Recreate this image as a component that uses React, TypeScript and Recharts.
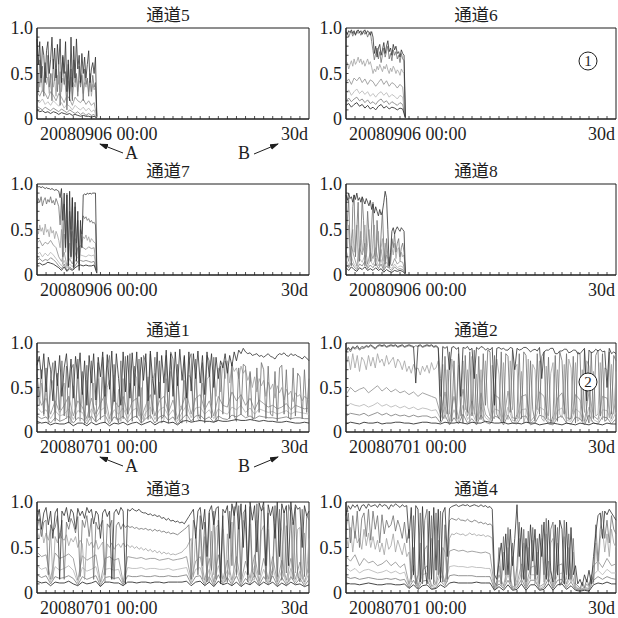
import { LineChart, Line, XAxis, YAxis, ReferenceArea } from 'recharts'

// time axis: days, values: percent of full scale (axis shows 0..1.0)
const FULL_DAYS = 30
const TOP_SPAN = 6.6
const DAY_TICKS = Array.from({ length: FULL_DAYS + 1 }, (_, i) => i)
const LEVEL_TICKS = [0, 10, 20, 30, 40, 50, 60, 70, 80, 90, 100]
const LEVEL_LABELS: Record<number, string> = { 0: '0', 50: '0.5', 100: '1.0' }

// ---- 通道5 (20080906) ----
const ch5Hi = [88, 60, 85, 45, 80, 70, 40, 75, 85, 50, 65, 90, 55, 78, 45, 82, 60, 88, 40, 70, 50, 85, 30, 65, 20, 90, 35, 80, 45, 88, 55, 70, 40, 72, 50, 68, 45, 60, 75, 40, 55, 62, 50, 68, 3]
const ch5Mid = [55, 30, 65, 40, 58, 25, 62, 45, 70, 35, 50, 20, 66, 42, 55, 30, 60, 15, 48, 68, 38, 52, 10, 60, 30, 55, 20, 65, 40, 50, 25, 58, 35, 48, 20, 55, 38, 45, 25, 50, 30, 48, 35, 40, 2]
const ch5Lt = [40, 50, 35, 48, 30, 45, 52, 38, 46, 28, 42, 50, 35, 44, 25, 48, 38, 52, 30, 45, 40, 35, 15, 42, 28, 46, 22, 40, 35, 48, 30, 42, 38, 50, 28, 40, 35, 45, 30, 42, 25, 38, 32, 36, 2]
const ch5L1 = [30, 25, 32, 28, 22, 30, 26, 20, 28, 24, 18, 26, 22, 15, 24, 20, 18, 22, 16, 20, 15, 18, 2]
const ch5L2 = [20, 18, 22, 16, 19, 15, 20, 17, 14, 18, 12, 16, 14, 10, 15, 12, 10, 13, 9, 12, 8, 10, 1]
const ch5L3 = [14, 12, 10, 13, 11, 9, 12, 10, 8, 11, 9, 7, 10, 8, 6, 8, 5, 7, 4, 6, 4, 5, 1]
const ch5Base = [10, 8, 9, 7, 8, 6, 8, 7, 5, 7, 6, 5, 6, 4, 5, 4, 3, 4, 3, 3, 2, 3, 1]

// ---- 通道6 ----
const ch6Hi = [96, 93, 97, 95, 98, 94, 97, 92, 96, 98, 95, 97, 93, 96, 98, 94, 97, 95, 92, 96, 90, 72, 80, 68, 78, 82, 70, 76, 84, 72, 80, 86, 74, 78, 70, 82, 76, 80, 72, 74, 68, 76, 72, 70, 2]
const ch6Mid = [92, 95, 90, 94, 96, 91, 95, 93, 97, 94, 96, 92, 95, 97, 93, 95, 90, 94, 96, 85, 75, 65, 72, 78, 66, 74, 62, 70, 78, 68, 74, 80, 66, 72, 64, 76, 70, 74, 66, 70, 62, 72, 66, 64, 2]
const ch6Lt = [58, 62, 55, 60, 64, 58, 66, 60, 63, 68, 62, 66, 60, 64, 58, 62, 66, 60, 63, 57, 50, 55, 52, 58, 54, 60, 56, 52, 58, 55, 60, 54, 50, 56, 52, 58, 55, 50, 54, 52, 48, 55, 52, 50, 2]
const ch6L1 = [40, 44, 38, 45, 42, 46, 40, 44, 38, 43, 41, 36, 40, 44, 38, 42, 36, 40, 38, 34, 38, 35, 2]
const ch6L2 = [28, 32, 26, 30, 33, 28, 31, 27, 30, 25, 28, 24, 28, 30, 26, 29, 24, 27, 25, 22, 26, 24, 2]
const ch6L3 = [20, 23, 19, 22, 24, 20, 22, 18, 21, 17, 19, 16, 20, 22, 18, 20, 16, 19, 17, 15, 18, 16, 1]
const ch6Base = [15, 17, 13, 16, 18, 14, 16, 12, 15, 11, 13, 10, 14, 16, 12, 14, 11, 13, 12, 10, 12, 11, 1]

// ---- 通道7 ----
const ch7Hi = [98, 97, 97, 96, 97, 96, 95, 96, 95, 95, 94, 95, 94, 93, 94, 93, 92, 85, 95, 60, 90, 30, 88, 10, 92, 20, 85, 8, 80, 15, 70, 5, 60, 30, 88, 89, 88, 90, 89, 90, 89, 90, 90, 90, 5]
const ch7Mid = [78, 84, 80, 86, 76, 82, 85, 78, 83, 80, 86, 79, 82, 77, 84, 80, 75, 55, 85, 20, 78, 40, 90, 15, 70, 50, 85, 10, 75, 35, 60, 12, 50, 45, 65, 62, 64, 60, 62, 58, 60, 57, 58, 55, 3]
const ch7Lt = [50, 45, 55, 48, 52, 44, 56, 47, 50, 42, 53, 46, 49, 40, 48, 44, 38, 30, 50, 12, 45, 25, 60, 8, 35, 18, 48, 6, 40, 20, 30, 10, 28, 35, 42, 40, 44, 38, 42, 36, 40, 38, 36, 35, 3]
const ch7L1 = [35, 38, 32, 36, 34, 38, 33, 30, 20, 15, 25, 10, 18, 12, 22, 30, 32, 30, 28, 31, 29, 30, 3]
const ch7L2 = [22, 25, 20, 24, 21, 25, 22, 18, 14, 10, 16, 8, 12, 9, 15, 20, 22, 21, 20, 22, 21, 22, 2]
const ch7L3 = [16, 18, 15, 17, 16, 19, 17, 14, 10, 7, 12, 5, 9, 6, 10, 15, 16, 15, 16, 15, 14, 15, 2]
const ch7Base = [12, 13, 11, 12, 14, 13, 12, 10, 8, 5, 9, 4, 7, 5, 8, 10, 11, 10, 11, 10, 10, 11, 2]

// ---- 通道8 ----
const ch8Hi = [88, 82, 90, 84, 86, 80, 88, 83, 90, 82, 85, 80, 86, 82, 78, 84, 80, 76, 82, 72, 78, 68, 75, 70, 65, 72, 66, 70, 80, 92, 85, 50, 10, 25, 48, 52, 45, 50, 53, 50, 48, 52, 50, 48, 2]
const ch8Mid = [20, 60, 85, 30, 10, 75, 88, 20, 50, 80, 15, 40, 85, 60, 10, 30, 70, 45, 15, 55, 80, 25, 10, 60, 35, 15, 45, 70, 30, 12, 40, 20, 8, 15, 40, 30, 45, 25, 35, 40, 20, 30, 35, 25, 2]
const ch8Lt = [45, 30, 55, 20, 40, 50, 25, 35, 55, 15, 30, 48, 25, 40, 55, 20, 35, 50, 30, 15, 40, 55, 20, 35, 48, 10, 30, 40, 15, 35, 25, 8, 20, 12, 30, 22, 35, 18, 28, 30, 15, 25, 20, 22, 2]
const ch8L1 = [28, 15, 32, 20, 10, 30, 22, 35, 12, 25, 18, 30, 15, 28, 8, 22, 15, 10, 18, 12, 15, 14, 2]
const ch8L2 = [18, 10, 20, 12, 8, 18, 14, 22, 9, 16, 11, 19, 10, 17, 6, 14, 10, 7, 12, 8, 10, 9, 1]
const ch8L3 = [12, 8, 14, 9, 6, 12, 10, 15, 7, 11, 8, 13, 7, 12, 5, 10, 7, 5, 9, 6, 7, 6, 1]
const ch8Base = [8, 5, 9, 6, 4, 8, 6, 9, 5, 7, 5, 8, 5, 7, 3, 6, 4, 3, 5, 4, 5, 4, 1]

// ---- 通道1 (20080701, 30 days) ----
const ch1Hi = [
  75, 85, 60, 88, 45, 84, 70, 35, 80, 52, 86, 40, 72, 88, 50, 82, 38, 85, 60, 89,
  42, 80, 30, 86, 55, 88, 36, 84, 62, 90, 40, 87, 48, 91, 34, 88, 60, 30, 90, 45,
  86, 38, 89, 52, 90, 40, 84, 58, 88, 35, 91, 60, 42, 90, 38, 86, 55, 92, 45, 88,
  40, 90, 52, 93, 58, 86, 38, 90, 46, 88, 60, 91, 55, 86, 42, 90, 62, 88, 50, 84,
  60, 80, 72, 88, 66, 86, 74, 90, 80, 92, 88, 94, 90, 88, 89, 86, 87, 88, 85, 86,
  84, 86, 88, 85, 84, 82, 86, 88, 87, 89, 86, 85, 88, 86, 87, 85, 84, 82, 85, 83,
  80,
]
const ch1Mid = [
  65, 40, 70, 20, 72, 15, 60, 78, 12, 66, 25, 80, 18, 74, 10, 70, 76, 14, 82, 22,
  68, 10, 75, 16, 80, 25, 12, 78, 14, 84, 20, 72, 86, 12, 76, 18, 10, 80, 15, 85,
  20, 88, 12, 74, 16, 82, 10, 86, 78, 14, 88, 20, 84, 12, 80, 15, 18, 86, 10, 90,
  82, 14, 76, 12, 10, 84, 18, 80, 88, 12, 82, 20, 15, 78, 10, 86, 80, 16, 84, 12,
  14, 74, 20, 80, 70, 15, 78, 18, 12, 72, 20, 76, 74, 18, 68, 14, 16, 72, 22, 78,
  70, 15, 74, 20, 18, 68, 12, 72, 75, 20, 70, 16, 14, 72, 18, 66, 62, 15, 70, 22,
  60,
]
const ch1Lt = [
  62, 30, 55, 18, 50, 10, 45, 58, 22, 60, 12, 48, 55, 15, 40, 10, 52, 28, 62, 12,
  45, 8, 58, 20, 12, 55, 30, 60, 25, 62, 10, 50, 58, 20, 64, 14, 48, 12, 60, 25,
  10, 55, 35, 66, 60, 18, 50, 12, 20, 62, 15, 58, 66, 25, 56, 10, 14, 60, 22, 68,
  55, 12, 62, 30, 25, 58, 10, 64, 60, 20, 66, 15, 12, 55, 28, 60, 62, 30, 70, 40,
  72, 45, 78, 60, 80, 55, 76, 68, 72, 60, 74, 66, 70, 58, 66, 50, 62, 45, 60, 52,
  58, 40, 56, 48, 54, 38, 52, 44, 50, 36, 48, 42, 46, 34, 44, 40, 42, 35, 40, 38,
  36,
]
const ch1L1 = [
  45, 30, 38, 20, 35, 22, 30, 40, 18, 35, 28, 15, 38, 20, 32, 42, 15, 36, 28, 40,
  20, 34, 38, 16, 30, 42, 18, 35, 40, 22, 36, 15, 30, 44, 20, 38, 42, 25, 35, 18,
  40, 30, 28, 45, 35, 42, 30, 38, 25, 36, 32, 28, 30, 26, 28, 32, 25, 30, 28, 26,
  27,
]
const ch1L2 = [
  28, 22, 25, 15, 24, 18, 20, 26, 14, 24, 22, 12, 26, 16, 24, 28, 12, 25, 20, 27,
  15, 24, 27, 13, 22, 28, 14, 25, 28, 18, 25, 12, 22, 30, 16, 27, 28, 20, 25, 15,
  26, 22, 20, 28, 25, 30, 22, 27, 20, 26, 24, 22, 23, 20, 22, 24, 20, 23, 22, 21,
  20,
]
const ch1L3 = [
  18, 15, 17, 10, 16, 12, 14, 18, 10, 16, 15, 9, 18, 11, 16, 19, 9, 17, 14, 18,
  11, 16, 18, 10, 15, 19, 10, 17, 19, 13, 17, 9, 15, 20, 12, 18, 19, 14, 17, 11,
  18, 15, 14, 19, 17, 20, 16, 18, 15, 18, 17, 16, 16, 15, 16, 17, 15, 16, 16, 15,
  15,
]
const ch1Base = [
  12, 10, 11, 8, 10, 9, 9, 11, 7, 10, 10, 7, 11, 8, 10, 11, 7, 10, 9, 11,
  8, 10, 11, 8, 10, 12, 8, 11, 12, 10, 11, 8, 12, 13, 11, 12, 13, 12, 12, 11,
  13, 12, 12, 13, 14, 13, 13, 14, 13, 12, 13, 12, 12, 11, 11, 12, 11, 10, 10, 11,
  10,
]

// ---- 通道2 ----
const ch2Hi = [
  90, 95, 92, 96, 94, 97, 93, 96, 95, 97, 96, 98, 96, 94, 97, 98, 97, 98, 96, 97,
  98, 97, 98, 96, 97, 98, 96, 97, 98, 97, 96, 55, 97, 98, 96, 97, 98, 97, 98, 96,
  97, 95, 12, 96, 94, 96, 70, 95, 96, 93, 95, 40, 95, 94, 96, 92, 94, 60, 95, 93,
  96, 95, 92, 94, 92, 95, 30, 94, 95, 93, 94, 92, 92, 95, 94, 70, 94, 92, 93, 95,
  95, 93, 90, 92, 93, 91, 95, 60, 90, 92, 92, 94, 94, 88, 88, 91, 91, 93, 93, 89,
  90, 92, 92, 88, 88, 91, 94, 35, 92, 89, 90, 93, 91, 93, 90, 91, 50, 94, 88, 90,
  88,
]
const ch2Mid = [
  92, 94, 90, 95, 93, 95, 92, 94, 94, 96, 95, 97, 95, 93, 96, 97, 96, 97, 95, 96,
  97, 96, 97, 95, 96, 97, 95, 96, 97, 96, 95, 97, 96, 97, 95, 96, 97, 96, 97, 95,
  96, 94, 60, 15, 85, 20, 90, 12, 80, 15, 88, 25, 10, 86, 22, 90, 18, 92, 12, 85,
  14, 88, 30, 92, 90, 12, 86, 20, 15, 90, 10, 88, 85, 22, 92, 12, 20, 88, 15, 90,
  86, 10, 80, 25, 12, 88, 20, 85, 90, 15, 84, 10, 18, 86, 12, 90, 80, 20, 88, 14,
  15, 85, 10, 90, 88, 12, 92, 20, 10, 90, 15, 86, 92, 18, 88, 12, 14, 90, 20, 86,
  80,
]
const ch2Lt = [
  75, 85, 70, 88, 72, 86, 68, 84, 80, 70, 86, 74, 84, 72, 88, 78, 82, 74, 86, 76,
  80, 84, 72, 82, 78, 70, 80, 68, 74, 66, 76, 70, 72, 64, 74, 68, 75, 66, 78, 70,
  72, 80, 40, 76, 15, 70, 20, 82, 60, 12, 75, 18, 80, 25, 70, 10, 85, 20, 65, 14,
  70, 12, 80, 28, 18, 75, 15, 82, 65, 10, 78, 22, 14, 80, 25, 72, 76, 15, 68, 10,
  20, 82, 12, 76, 70, 25, 80, 15, 12, 74, 18, 66, 78, 14, 70, 20, 16, 76, 10, 82,
  72, 20, 78, 12, 15, 70, 22, 80, 74, 12, 68, 18, 20, 78, 14, 72, 70, 16, 76, 20,
  68,
]
const ch2L1 = [
  42, 50, 45, 48, 50, 44, 48, 52, 46, 50, 45, 48, 44, 46, 42, 45, 40, 44, 42, 40,
  38, 20, 45, 12, 40, 15, 48, 18, 35, 12, 44, 20, 14, 42, 38, 12, 46, 16, 15, 40,
  42, 12, 18, 45, 40, 14, 12, 38, 44, 16, 15, 42, 36, 12, 45, 18, 14, 40, 38, 15,
  35,
]
const ch2L2 = [
  28, 32, 30, 29, 31, 28, 30, 33, 29, 31, 28, 30, 27, 29, 26, 28, 25, 27, 26, 24,
  25, 15, 28, 10, 25, 12, 30, 14, 22, 10, 28, 16, 12, 26, 24, 10, 28, 13, 12, 25,
  26, 10, 14, 28, 25, 11, 10, 24, 27, 13, 12, 26, 22, 10, 28, 14, 11, 25, 24, 12,
  22,
]
const ch2L3 = [
  18, 21, 20, 19, 21, 18, 20, 22, 19, 21, 18, 20, 18, 19, 17, 19, 17, 18, 18, 16,
  17, 10, 19, 8, 16, 9, 20, 10, 15, 8, 19, 11, 9, 18, 16, 8, 19, 10, 9, 17,
  18, 8, 10, 19, 17, 9, 8, 16, 18, 10, 9, 17, 15, 8, 19, 10, 9, 17, 16, 9,
  15,
]
const ch2Base = [
  9, 11, 10, 9, 11, 10, 10, 11, 9, 10, 10, 11, 11, 10, 10, 9, 10, 11, 11, 10,
  10, 9, 11, 10, 10, 11, 10, 9, 11, 10, 10, 12, 11, 10, 10, 11, 9, 10, 10, 9,
  11, 10, 10, 8, 9, 10, 10, 9, 8, 10, 9, 8, 10, 9, 8, 10, 9, 8, 10, 9,
  9,
]

// ---- 通道3 ----
const ch3Hi = [
  80, 92, 70, 88, 94, 75, 90, 60, 88, 93, 15, 90, 85, 94, 78, 92, 88, 70, 93, 85,
  90, 82, 94, 88, 92, 76, 90, 86, 60, 88, 92, 84, 90, 15, 88, 92, 86, 94, 90, 10,
  92, 90, 93, 91, 90, 92, 89, 88, 88, 86, 87, 85, 86, 84, 85, 82, 83, 80, 82, 79,
  80, 78, 79, 77, 78, 76, 80, 84, 88, 92, 60, 90, 94, 70, 92, 40, 90, 96, 75, 93,
  95, 10, 92, 88, 96, 60, 98, 85, 100, 70, 98, 50, 97, 20, 100, 80, 96, 45, 99, 90,
  100, 30, 97, 85, 95, 60, 100, 40, 98, 88, 96, 30, 100, 75, 97, 92, 94, 50, 96, 85,
  90,
]
const ch3Mid = [
  70, 82, 62, 78, 80, 20, 75, 68, 72, 85, 60, 80, 15, 78, 70, 82, 76, 66, 84, 18,
  80, 72, 85, 62, 82, 15, 78, 70, 74, 80, 20, 76, 72, 80, 15, 74, 78, 70, 76, 72,
  74, 72, 73, 71, 72, 70, 71, 70, 71, 69, 70, 68, 70, 68, 69, 67, 68, 66, 67, 65,
  66, 65, 64, 66, 68, 70, 72, 75, 15, 80, 70, 20, 85, 30, 78, 12, 88, 25, 90, 15,
  80, 18, 85, 22, 12, 90, 30, 95, 20, 96, 15, 88, 92, 12, 95, 25, 18, 98, 20, 90,
  94, 15, 88, 12, 25, 96, 18, 92, 14, 90, 22, 97, 88, 15, 94, 20, 12, 92, 18, 86,
  80,
]
const ch3Lt = [
  68, 60, 72, 55, 66, 58, 70, 15, 62, 55, 66, 60, 58, 64, 52, 60, 56, 62, 50, 58,
  54, 15, 60, 52, 56, 50, 58, 48, 52, 56, 12, 54, 50, 55, 48, 52, 54, 50, 55, 51,
  53, 50, 52, 49, 51, 48, 50, 47, 49, 46, 48, 45, 47, 44, 46, 43, 45, 43, 44, 42,
  43, 42, 43, 44, 45, 48, 50, 55, 60, 18, 65, 25, 70, 15, 62, 20, 12, 68, 20, 72,
  75, 16, 70, 12, 65, 20, 78, 15, 18, 72, 12, 80, 70, 22, 76, 14, 15, 80, 20, 68,
  74, 12, 70, 25, 20, 76, 15, 82, 68, 18, 74, 12, 16, 78, 22, 70, 72, 15, 66, 20,
  60,
]
const ch3L1 = [
  45, 40, 42, 15, 44, 38, 40, 43, 38, 14, 41, 36, 39, 42, 12, 38, 40, 36, 38, 12,
  40, 39, 38, 39, 37, 38, 38, 36, 37, 38, 36, 37, 38, 40, 15, 35, 40, 14, 38, 12,
  42, 15, 36, 14, 40, 12, 35, 16, 42, 13, 38, 15, 40, 12, 36, 14, 38, 15, 34, 12,
  30,
]
const ch3L2 = [
  30, 26, 28, 12, 29, 25, 27, 30, 25, 11, 28, 24, 26, 29, 10, 26, 27, 25, 26, 10,
  28, 27, 27, 28, 26, 27, 27, 26, 26, 27, 25, 26, 27, 28, 12, 26, 28, 11, 26, 10,
  30, 12, 25, 11, 28, 10, 24, 13, 30, 11, 26, 12, 28, 10, 25, 11, 27, 12, 24, 10,
  22,
]
const ch3L3 = [
  20, 17, 19, 10, 18, 16, 17, 19, 16, 9, 18, 15, 17, 19, 8, 17, 18, 16, 17, 9,
  19, 18, 18, 19, 18, 18, 19, 18, 18, 19, 18, 18, 19, 20, 10, 18, 19, 9, 18, 8,
  20, 10, 17, 9, 19, 8, 16, 10, 20, 9, 18, 10, 19, 8, 17, 9, 18, 10, 16, 8,
  15,
]
const ch3Base = [
  13, 11, 12, 8, 12, 11, 11, 13, 10, 8, 12, 10, 11, 13, 7, 12, 12, 11, 11, 8,
  12, 12, 11, 12, 12, 11, 12, 12, 11, 12, 12, 12, 12, 13, 8, 12, 13, 8, 12, 7,
  13, 9, 11, 8, 12, 7, 11, 9, 13, 8, 12, 9, 12, 7, 11, 8, 12, 9, 10, 7,
  9,
]

// ---- 通道4 ----
const ch4Hi = [
  85, 96, 92, 97, 94, 97, 90, 96, 97, 93, 98, 95, 96, 97, 94, 98, 95, 97, 96, 92,
  97, 95, 98, 96, 94, 97, 95, 96, 60, 94, 20, 96, 92, 12, 95, 30, 10, 90, 15, 94,
  25, 92, 12, 88, 94, 40, 93, 95, 96, 97, 95, 96, 97, 96, 97, 95, 96, 97, 96, 95,
  97, 95, 96, 94, 95, 92, 20, 15, 35, 55, 25, 65, 20, 70, 30, 60, 97, 40, 72, 15,
  60, 25, 75, 35, 70, 20, 65, 40, 78, 15, 80, 25, 12, 75, 20, 80, 70, 10, 78, 15,
  72, 20, 30, 10, 15, 8, 20, 12, 25, 10, 40, 65, 85, 88, 60, 90, 86, 92, 88, 84,
  80,
]
const ch4Mid = [
  70, 88, 55, 85, 60, 90, 50, 82, 88, 62, 92, 58, 90, 70, 85, 55, 86, 65, 80, 72,
  75, 85, 68, 80, 72, 60, 78, 55, 70, 15, 85, 10, 20, 88, 10, 80, 92, 15, 85, 10,
  88, 20, 90, 12, 75, 15, 80, 82, 81, 80, 82, 80, 80, 79, 81, 79, 78, 80, 79, 77,
  78, 76, 77, 75, 76, 74, 12, 8, 50, 10, 62, 20, 72, 12, 55, 8, 30, 78, 15, 70,
  12, 68, 20, 72, 15, 60, 10, 75, 20, 82, 12, 70, 78, 15, 72, 10, 12, 80, 20, 65,
  15, 60, 10, 8, 5, 12, 6, 15, 8, 20, 12, 75, 35, 70, 90, 60, 80, 55, 85, 70,
  65,
]
const ch4Lt = [
  65, 50, 72, 45, 68, 55, 60, 48, 70, 52, 66, 50, 62, 48, 58, 45, 55, 42, 60, 48,
  52, 65, 45, 58, 50, 42, 55, 40, 45, 12, 50, 8, 15, 55, 10, 48, 52, 12, 60, 15,
  10, 58, 15, 50, 45, 12, 60, 65, 64, 66, 65, 64, 65, 63, 64, 66, 64, 65, 63, 64,
  63, 64, 62, 63, 62, 60, 10, 5, 30, 8, 45, 12, 50, 10, 40, 6, 15, 60, 10, 55,
  8, 50, 15, 58, 10, 45, 8, 60, 12, 65, 10, 55, 60, 10, 55, 8, 10, 62, 15, 50,
  12, 45, 8, 5, 4, 8, 5, 10, 6, 15, 10, 55, 25, 60, 70, 45, 65, 40, 70, 55,
  50,
]
const ch4L1 = [
  40, 35, 42, 30, 38, 33, 35, 30, 32, 36, 30, 34, 28, 32, 10, 30, 8, 25, 30, 8,
  10, 28, 12, 46, 48, 46, 47, 45, 46, 45, 44, 45, 43, 6, 20, 8, 30, 6, 10, 32,
  8, 28, 30, 7, 10, 35, 8, 30, 32, 10, 25, 6, 4, 6, 5, 30, 35, 28, 38, 30,
  32,
]
const ch4L2 = [
  28, 24, 27, 22, 25, 26, 24, 22, 23, 25, 22, 24, 21, 23, 8, 22, 6, 20, 22, 7,
  8, 20, 10, 29, 30, 29, 29, 28, 29, 28, 28, 27, 27, 5, 14, 6, 20, 5, 8, 22,
  6, 20, 20, 5, 8, 24, 6, 20, 22, 8, 18, 5, 3, 5, 4, 20, 25, 20, 26, 22,
  22,
]
const ch4L3 = [
  18, 16, 17, 15, 16, 17, 16, 15, 15, 16, 15, 16, 14, 15, 6, 14, 5, 13, 14, 5,
  6, 13, 8, 19, 20, 19, 19, 19, 19, 18, 18, 18, 18, 4, 10, 5, 14, 4, 6, 15,
  5, 14, 14, 4, 6, 16, 5, 14, 15, 6, 12, 4, 3, 4, 3, 14, 18, 15, 18, 16,
  15,
]
const ch4Base = [
  11, 10, 10, 9, 10, 11, 10, 9, 9, 10, 10, 9, 9, 10, 5, 9, 4, 8, 9, 4,
  5, 9, 6, 11, 12, 11, 11, 11, 11, 12, 11, 11, 11, 3, 7, 3, 9, 3, 4, 10,
  3, 9, 9, 3, 4, 10, 3, 9, 10, 4, 8, 3, 2, 3, 2, 9, 11, 10, 12, 10,
  10,
]

type Role = 'l2' | 'l1' | 'l3' | 'lt' | 'mid' | 'base' | 'hi'
const ROLE_ORDER: Role[] = ['l2', 'l1', 'l3', 'lt', 'mid', 'base', 'hi']
const ROLE_STYLE: Record<Role, { stroke: string; width: number }> = {
  l2: { stroke: '#b4b4b4', width: 0.8 },
  l1: { stroke: '#8e8e8e', width: 0.8 },
  l3: { stroke: '#7a7a7a', width: 0.8 },
  lt: { stroke: '#a2a2a2', width: 0.8 },
  mid: { stroke: '#707070', width: 0.8 },
  base: { stroke: '#333333', width: 0.9 },
  hi: { stroke: '#303030', width: 0.8 },
}

type PanelDef = {
  title: string
  start: string
  span: number
  col: number
  row: number
  series: Record<Role, number[]>
}

const PANELS: PanelDef[] = [
  { title: '通道5', start: '20080906 00:00', span: TOP_SPAN, col: 0, row: 0,
    series: { hi: ch5Hi, mid: ch5Mid, lt: ch5Lt, l1: ch5L1, l2: ch5L2, l3: ch5L3, base: ch5Base } },
  { title: '通道6', start: '20080906 00:00', span: TOP_SPAN, col: 1, row: 0,
    series: { hi: ch6Hi, mid: ch6Mid, lt: ch6Lt, l1: ch6L1, l2: ch6L2, l3: ch6L3, base: ch6Base } },
  { title: '通道7', start: '20080906 00:00', span: TOP_SPAN, col: 0, row: 1,
    series: { hi: ch7Hi, mid: ch7Mid, lt: ch7Lt, l1: ch7L1, l2: ch7L2, l3: ch7L3, base: ch7Base } },
  { title: '通道8', start: '20080906 00:00', span: TOP_SPAN, col: 1, row: 1,
    series: { hi: ch8Hi, mid: ch8Mid, lt: ch8Lt, l1: ch8L1, l2: ch8L2, l3: ch8L3, base: ch8Base } },
  { title: '通道1', start: '20080701 00:00', span: FULL_DAYS, col: 0, row: 2,
    series: { hi: ch1Hi, mid: ch1Mid, lt: ch1Lt, l1: ch1L1, l2: ch1L2, l3: ch1L3, base: ch1Base } },
  { title: '通道2', start: '20080701 00:00', span: FULL_DAYS, col: 1, row: 2,
    series: { hi: ch2Hi, mid: ch2Mid, lt: ch2Lt, l1: ch2L1, l2: ch2L2, l3: ch2L3, base: ch2Base } },
  { title: '通道3', start: '20080701 00:00', span: FULL_DAYS, col: 0, row: 3,
    series: { hi: ch3Hi, mid: ch3Mid, lt: ch3Lt, l1: ch3L1, l2: ch3L2, l3: ch3L3, base: ch3Base } },
  { title: '通道4', start: '20080701 00:00', span: FULL_DAYS, col: 1, row: 3,
    series: { hi: ch4Hi, mid: ch4Mid, lt: ch4Lt, l1: ch4L1, l2: ch4L2, l3: ch4L3, base: ch4Base } },
]

// layout of plot boxes on the page
const COLS = [{ x: 37, w: 272 }, { x: 346, w: 270 }]
const ROWS = [{ y: 28, h: 91 }, { y: 184, h: 91 }, { y: 343, h: 89 }, { y: 502, h: 91 }]
const AXIS_W = 37
const TOP_PAD = 14
const XAXIS_H = 30
const FONT = "'Liberation Serif', 'Times New Roman', 'DejaVu Serif', 'Noto Sans CJK SC', serif"
const INK = '#1e1e1e'

const toPoints = (values: number[], span: number) =>
  values.map((v, i) => ({ t: (i * span) / (values.length - 1), v }))

const DayTick = (props: any) => {
  const { x, y, payload, start } = props
  const d = payload.value
  return (
    <g>
      {d > 0 && d < FULL_DAYS && <line x1={x} x2={x} y1={y} y2={y - 3} stroke={INK} strokeWidth={0.8} />}
      {d === 0 && (
        <text x={x + 3} y={y + 21} textAnchor='start' fontSize={18} fontFamily={FONT} fill={INK}>{start}</text>
      )}
      {d === FULL_DAYS && (
        <text x={x - 1} y={y + 21} textAnchor='end' fontSize={18} fontFamily={FONT} fill={INK}>30d</text>
      )}
    </g>
  )
}

const LevelTick = (props: any) => {
  const { x, y, payload } = props
  const v = payload.value
  const label = LEVEL_LABELS[v]
  return (
    <g>
      {v > 0 && v < 100 && <line x1={x} x2={x + 2.5} y1={y} y2={y} stroke={INK} strokeWidth={0.8} />}
      {label && (
        <text x={x - 4} y={y + 6} textAnchor='end' fontSize={18} fontFamily={FONT} fill={INK}>{label}</text>
      )}
    </g>
  )
}

const Panel = ({ def }: { def: PanelDef }) => {
  const c = COLS[def.col]
  const r = ROWS[def.row]
  return (
    <div style={{ position: 'absolute', left: c.x - AXIS_W, top: r.y - TOP_PAD }}>
      <LineChart
        width={AXIS_W + c.w + 1}
        height={TOP_PAD + r.h + XAXIS_H}
        margin={{ top: TOP_PAD, right: 1, bottom: 0, left: 0 }}>
        <XAxis
          type='number'
          dataKey='t'
          domain={[0, FULL_DAYS]}
          ticks={DAY_TICKS}
          interval={0}
          height={XAXIS_H}
          tickSize={0}
          tickMargin={0}
          tickLine={false}
          axisLine={{ stroke: INK }}
          tick={(p: any) => <DayTick {...p} start={def.start} />}
        />
        <YAxis
          type='number'
          dataKey='v'
          domain={[0, 100]}
          ticks={LEVEL_TICKS}
          interval={0}
          width={AXIS_W}
          tickSize={0}
          tickMargin={0}
          tickLine={false}
          axisLine={{ stroke: INK }}
          tick={(p: any) => <LevelTick {...p} />}
        />
        {ROLE_ORDER.map(role => (
          <Line
            key={role}
            data={toPoints(def.series[role], def.span)}
            dataKey='v'
            type='linear'
            stroke={ROLE_STYLE[role].stroke}
            strokeWidth={ROLE_STYLE[role].width}
            dot={false}
            activeDot={false}
            isAnimationActive={false}
          />
        ))}
        <ReferenceArea x1={0} x2={FULL_DAYS} y1={0} y2={100} fill='none' stroke={INK} strokeWidth={1} ifOverflow='visible' />
      </LineChart>
    </div>
  )
}

const Arrow = ({ x1, y1, x2, y2 }: { x1: number; y1: number; x2: number; y2: number }) => (
  <line x1={x1} y1={y1} x2={x2} y2={y2} stroke={INK} strokeWidth={1} markerEnd='url(#arrowHead)' />
)

const Annotations = () => (
  <svg width={618} height={618} style={{ position: 'absolute', left: 0, top: 0, pointerEvents: 'none' }}>
    <defs>
      <marker id='arrowHead' markerWidth={9} markerHeight={6} refX={8} refY={3} orient='auto' markerUnits='userSpaceOnUse'>
        <path d='M0,0 L9,3 L0,6 z' fill={INK} />
      </marker>
    </defs>
    {PANELS.map(p => (
      <text
        key={p.title}
        x={COLS[p.col].x + COLS[p.col].w / 2 - 5}
        y={ROWS[p.row].y - 7}
        textAnchor='middle'
        fontSize={17.5}
        fontFamily={FONT}
        fill={INK}>
        {p.title}
      </text>
    ))}
    {[ROWS[0].y + ROWS[0].h, ROWS[2].y + ROWS[2].h].map(b => (
      <g key={b}>
        <Arrow x1={123} y1={b + 34} x2={100} y2={b + 25} />
        <text x={125} y={b + 40} fontSize={18} fontFamily={FONT} fill={INK}>A</text>
        <text x={238} y={b + 40} fontSize={18} fontFamily={FONT} fill={INK}>B</text>
        <Arrow x1={254} y1={b + 35} x2={278} y2={b + 25} />
      </g>
    ))}
    <circle cx={588} cy={61} r={9} fill='#fff' stroke={INK} strokeWidth={1} />
    <text x={588} y={66} textAnchor='middle' fontSize={15} fontFamily={FONT} fill={INK}>1</text>
    <circle cx={588} cy={382} r={9} fill='#fff' stroke={INK} strokeWidth={1} />
    <text x={588} y={387} textAnchor='middle' fontSize={15} fontFamily={FONT} fill={INK}>2</text>
  </svg>
)

export default function App() {
  return (
    <div style={{ position: 'absolute', left: 0, top: 0, width: 618, height: 618, overflow: 'hidden', background: '#fff' }}>
      {PANELS.map(p => (
        <Panel key={p.title} def={p} />
      ))}
      <Annotations />
    </div>
  )
}
